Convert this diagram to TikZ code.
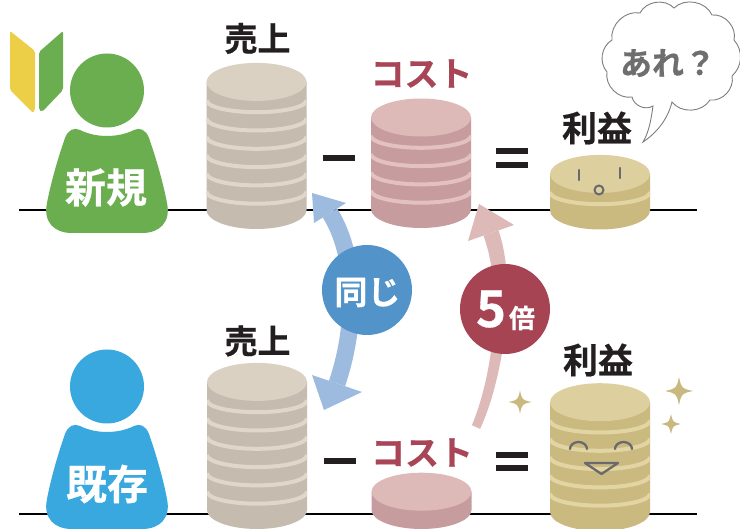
\documentclass[tikz,border=0pt]{standalone}
\usepackage{fontspec}
\setmainfont{Noto Sans CJK JP}[BoldFont={Noto Sans CJK JP Bold},BoldFeatures={FakeBold=0.6}]

\definecolor{ink}{RGB}{35,31,32}
\definecolor{baseline}{RGB}{92,92,92}
\definecolor{newgreen}{RGB}{106,174,80}
\definecolor{leafyellow}{RGB}{236,207,70}
\definecolor{oldblue}{RGB}{56,168,222}
\definecolor{salesface}{RGB}{219,209,195}
\definecolor{salesside}{RGB}{197,187,175}
\definecolor{salesline}{RGB}{224,215,201}
\definecolor{costface}{RGB}{221,186,183}
\definecolor{costside}{RGB}{198,156,159}
\definecolor{costline}{RGB}{226,193,190}
\definecolor{gainface}{RGB}{222,208,158}
\definecolor{gainside}{RGB}{202,186,127}
\definecolor{gainline}{RGB}{226,213,163}
\definecolor{costred}{RGB}{168,69,86}
\definecolor{samearrow}{RGB}{157,187,222}
\definecolor{samedisc}{RGB}{82,147,201}
\definecolor{riseArrow}{RGB}{221,186,184}
\definecolor{risedisc}{RGB}{166,68,84}
\definecolor{thinkgray}{RGB}{110,110,110}
\definecolor{cloudline}{RGB}{125,125,125}
\definecolor{facegray}{RGB}{105,105,110}
\definecolor{sparkle}{RGB}{201,185,126}

\tikzset{
  lbl/.style={inner sep=0pt, text=ink, font=\bfseries\fontsize{33}{33}\selectfont},
  costlbl/.style={lbl, text=costred, font=\bfseries\fontsize{34}{34}\selectfont},
  tag/.style={inner sep=0pt, text=white, font=\bfseries\fontsize{41}{41}\selectfont},
  disctext/.style={inner sep=0pt, text=white, font=\bfseries\fontsize{33}{33}\selectfont},
  bar/.style={fill=ink},
  facestroke/.style={draw=facegray, line width=2.3pt, line cap=round, line join=round},
}

% a stack of coins: x centre, y of bottom centre, count, side, face, gap colour
\newcommand\coins[6]{%
  \pgfmathsetmacro\cTop{#2-#3*18.3}%
  \fill[#4] (#1-50,\cTop) -- (#1-50,#2)
    arc[start angle=180,end angle=360,x radius=50pt,y radius=19pt]
    -- (#1+50,\cTop) -- cycle;
  \ifnum#3>1
  \begin{scope}
    \clip (#1-50,\cTop) rectangle (#1+50,#2+20);
    \foreach \k in {2,...,#3}{%
      \pgfmathsetmacro\yy{\cTop+(\k-1)*18.3}%
      \draw[#6, line width=4pt] (#1-50,\yy)
        arc[start angle=180,end angle=360,x radius=50pt,y radius=12pt];
    }
  \end{scope}
  \fi
  \fill[#5] (#1,\cTop) ellipse[x radius=50pt, y radius=19pt];
}

% four-pointed twinkle
\newcommand\twinkle[3]{%
  \fill[sparkle] (#1,#2-#3) .. controls (#1+0.18*#3,#2-0.18*#3) .. (#1+#3,#2)
    .. controls (#1+0.18*#3,#2+0.18*#3) .. (#1,#2+#3)
    .. controls (#1-0.18*#3,#2+0.18*#3) .. (#1-#3,#2)
    .. controls (#1-0.18*#3,#2-0.18*#3) .. (#1,#2-#3) -- cycle;
}

% person silhouette: head and body
\newcommand\person[1]{%
  \fill[#1] (107,90.5) circle[radius=37pt];
  \fill[#1] (80,130) .. controls (96,138) and (118,138) .. (134,130)
    .. controls (140,127) and (146,130) .. (149,138)
    .. controls (156,158) and (163,182) .. (167,203)
    .. controls (171,222) and (160,233) .. (142,233)
    -- (72,233)
    .. controls (54,233) and (43,222) .. (47,203)
    .. controls (51,182) and (58,158) .. (65,138)
    .. controls (68,130) and (74,127) .. (80,130) -- cycle;
}

\begin{document}
\begin{tikzpicture}[x=1pt,y=-1pt]
\useasboundingbox (0,0) rectangle (740,529);
\fill[white] (0,0) rectangle (740,529);

% ground lines
\draw[baseline, line width=2pt] (19,210) -- (697,210);
\draw[baseline, line width=2pt] (19,514) -- (697,514);

% people
\person{newgreen}
\begin{scope}[shift={(0,296)}]
  \person{oldblue}
\end{scope}
\node[tag] (newTag) at (106,187.5) {新規};
\node[tag] (oldTag) at (107,484) {既存};

% beginner leaf mark
\fill[leafyellow, rounded corners=2pt] (10,31) -- (35,51) -- (35,110) -- (33,113) -- (10,90) -- cycle;
\fill[newgreen, rounded corners=2pt] (39,52) -- (63,31) -- (63,90) -- (42,112) -- (39,110) -- cycle;

% coin stacks
\coins{256.5}{210}{7}{salesside}{salesface}{salesline}
\coins{421}{209}{5}{costside}{costface}{costline}
\coins{600}{210.5}{2}{gainside}{gainface}{gainline}
\coins{257}{510}{7}{salesside}{salesface}{salesline}
\coins{421.5}{510}{1}{costside}{costface}{costline}
\coins{600}{512}{6}{gainside}{gainface}{gainline}

% labels
\node[lbl] (salesA) at (257.5,38.5) {売上};
\node[costlbl] (costA) at (421.5,73.5) {コスト};
\node[lbl, font=\bfseries\fontsize{35}{35}\selectfont] (gainA) at (597,128) {利益};
\node[lbl] (salesB) at (257.5,341) {売上};
\node[costlbl] (costB) at (422,452.5) {コスト};
\node[lbl, font=\bfseries\fontsize{35}{35}\selectfont] (gainB) at (598,360) {利益};

% minus and equals
\fill[bar] (323,155) rectangle (355,161);
\fill[bar] (496,148) rectangle (528,154);
\fill[bar] (496,162) rectangle (528,168);
\fill[bar] (324,458) rectangle (356,464);
\fill[bar] (496,452) rectangle (528,458);
\fill[bar] (496,465) rectangle (528,471);

% double arrow: same sales
\coordinate (sameTop) at (330,213);
\coordinate (sameBot) at (337,383.5);
\draw[samearrow, line width=17pt] (sameTop) .. controls (359,260) and (355,331) .. (sameBot);
\fill[samearrow] (312,193) -- (346,203) -- (314,223) -- cycle;
\fill[samearrow] (324,410) -- (312,375) -- (362,392) -- cycle;
\fill[samedisc] (367,290) circle[radius=45pt];
\node[disctext] (sameTxt) at (367.5,292.5) {同じ};

% rising arrow: cost times five
\coordinate (riseTail) at (476,427);
\coordinate (riseHead) at (491,233);
\fill[riseArrow] (471.9,425.2) .. controls (492,377.8) and (504,291.5) .. (483.5,235.6)
  -- (498.5,230.4) .. controls (518,286.5) and (502,382.2) .. (480.1,428.8) -- cycle;
\fill[riseArrow] (479,204) -- (514,225) -- (468,241) -- cycle;
\fill[risedisc] (505,309) circle[radius=45pt];
\node[inner sep=0pt, text=white, font=\bfseries\fontsize{51}{51}\selectfont] (five) at (491,309) {5};
\node[inner sep=0pt, text=white, font=\bfseries\fontsize{26}{26}\selectfont] (bai) at (522,318) {倍};

% thought bubble
\path[draw=cloudline, fill=white, line width=0.9pt]
  (672,102) to[bend right=55] (710,100) to[bend right=55] (732,76)
  to[bend right=45] (734,40) to[bend right=55] (712,15)
  to[bend right=55] (674,8) to[bend right=55] (640,13)
  to[bend right=55] (612,40) to[bend right=50] (607,72)
  to[bend right=55] (632,97) to[bend right=55] (653,106)
  .. controls (651,120) and (649,132) .. (643,142)
  .. controls (658,132) and (668,118) .. (672,102) -- cycle;
\node[inner sep=0pt, text=thinkgray, font=\bfseries\fontsize{32}{32}\selectfont] (huh) at (668,63) {あれ？};

% puzzled face
\draw[facestroke] (579,170) -- (579,180);
\draw[facestroke] (620,168) -- (620,178);
\draw[facestroke, line width=2pt] (599,190) circle[radius=4.5pt];

% happy face
\draw[facestroke] (570,449) arc[start angle=180,end angle=0,x radius=8.5pt,y radius=7pt];
\draw[facestroke] (615,449) arc[start angle=180,end angle=0,x radius=8.5pt,y radius=7pt];
\draw[facestroke] (585,463) -- (618,463) -- (601.5,474) -- cycle;

% twinkles
\twinkle{520}{402}{11.5}
\twinkle{679}{391}{14}
\twinkle{671}{424}{10}
\end{tikzpicture}
\end{document}
